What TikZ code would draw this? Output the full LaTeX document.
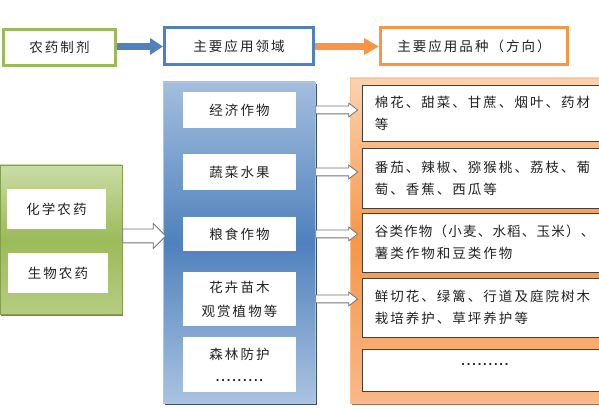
\documentclass[tikz,border=0pt]{standalone}
\usepackage{fontspec}
\usetikzlibrary{shapes.arrows,arrows.meta,shadows}
\newfontfamily\cjk[LetterSpace=15]{Noto Sans CJK SC}
\newfontfamily\dotfont[LetterSpace=14]{Liberation Sans}
\definecolor{gr}{HTML}{9BBB59}
\definecolor{grL}{HTML}{CADCA6}
\definecolor{grB}{HTML}{B6CC82}
\definecolor{bl}{HTML}{4F81BD}
\definecolor{blL}{HTML}{A3BEDD}
\definecolor{blB}{HTML}{AAC3E0}
\definecolor{orc}{HTML}{F79646}
\definecolor{orL}{HTML}{FBD3B2}
\definecolor{orB}{HTML}{F9B888}
\definecolor{txt}{HTML}{222222}
\tikzset{
  every node/.style={font=\cjk\fontsize{13.5}{22}\selectfont, text=txt},
  topbox/.style={draw, line width=3pt, fill=white, minimum height=37pt, inner sep=0pt},
  wbox/.style={fill=white, inner sep=0pt},
  obox/.style={fill=white, draw=black!75, line width=0.8pt, inner sep=0pt, minimum width=243pt},
  otext/.style={anchor=west, align=left, inner sep=0pt},
  hollow/.style={single arrow, draw=black!55, fill=white, line width=0.8pt, inner sep=0pt, anchor=tail},
  panel/.style={line width=0.6pt, inner sep=0pt}
}
\begin{document}
\begin{tikzpicture}[x=1pt,y=1pt]
\useasboundingbox (0,0) rectangle (599,409);
% top row
\node[topbox, draw=gr, minimum width=112pt, minimum height=36pt] (g1) at (59.5,361.5) {农药制剂};
\node[topbox, draw=bl, minimum width=149pt] (b1) at (239,363) {主要应用领域};
\node[topbox, draw=orc, minimum width=187pt] (o1) at (474,363) {主要应用品种（方向）};
\draw[bl, line width=6.5pt, -{Triangle[length=13pt,width=16pt]}] ([yshift=1pt]g1.east) -- ([yshift=1pt]g1.east -| b1.west);
\draw[orc, line width=6.5pt, -{Triangle[length=15pt,width=16pt]}] ([yshift=-0.5pt]b1.east) -- ([yshift=-0.5pt]b1.east -| o1.west);
% green panel
\node[panel, draw=gr!85!black, top color=grL, bottom color=grB, middle color=gr,
  minimum width=122pt, minimum height=149pt,
  drop shadow={shadow xshift=1.2pt, shadow yshift=-2pt, fill=gr!45!black, opacity=0.7}] (gp) at (61,169.5) {};
\node[wbox, minimum width=99pt, minimum height=40pt] (ga) at (56.5,200) {化学农药};
\node[wbox, minimum width=100pt, minimum height=40pt] (gb) at (58,136) {生物农药};
% blue panel
\node[panel, draw=bl!45!white, top color=blL, bottom color=blB, middle color=bl,
  minimum width=152pt, minimum height=321pt,
  drop shadow={shadow xshift=1.5pt, shadow yshift=-2pt, fill=bl!45!black, opacity=0.9}] (bp) at (239,166.5) {};
\node[wbox, minimum width=113pt, minimum height=36pt] (e1) at (239.5,299) {经济作物};
\node[wbox, minimum width=113pt, minimum height=36pt] (e2) at (239.5,237) {蔬菜水果};
\node[wbox, minimum width=113pt, minimum height=34pt] (e3) at (239.5,175) {粮食作物};
\node[wbox, minimum width=113pt, minimum height=54pt, align=center] (e4) at (239.5,110) {花卉苗木\\[2pt]观赏植物等};
\node[wbox, minimum width=113pt, minimum height=55pt, align=center] (e5) at (239.5,44.5) {森林防护\\{\dotfont\fontsize{13}{22}\selectfont\bfseries .........}};
% orange panel
\node[panel, draw=orc!60!white, top color=orL, bottom color=orB, middle color=orc,
  minimum width=255pt, minimum height=325pt,
  drop shadow={shadow xshift=1.5pt, shadow yshift=-2pt, fill=orc!50!black, opacity=0.8}] (op) at (477.5,168.5) {};
\node[obox, minimum height=56pt] (oa) at (483.5,296) {};
\node[obox, minimum height=60pt] (ob) at (483.5,231) {};
\node[obox, minimum height=59pt] (oc) at (483.5,166.5) {};
\node[obox, minimum height=59pt] (od) at (483.5,101.5) {};
\node[obox, minimum height=42pt] (oe) at (483.5,39) {};
\node[otext] (ta) at ([xshift=13pt]oa.west) {棉花、甜菜、甘蔗、烟叶、药材\\等};
\node[otext] (tb) at ([xshift=13pt]ob.west) {番茄、辣椒、猕猴桃、荔枝、葡\\萄、香蕉、西瓜等};
\node[otext] (tc) at ([xshift=13pt]oc.west) {{\addfontfeature{LetterSpace=9}谷类作物（小麦、水稻、玉米）、}\\薯类作物和豆类作物};
\node[otext] (td) at ([xshift=13pt]od.west) {鲜切花、绿篱、行道及庭院树木\\栽培养护、草坪养护等};
\node[inner sep=0pt] (te) at (485,44) {\dotfont\fontsize{13}{22}\selectfont\bfseries .........};
% hollow arrows
\node[hollow, minimum height=43pt, single arrow head extend=5.5pt] (h0) at ([yshift=3.5pt]gp.east) {\rule{0pt}{13pt}};
\node[hollow, minimum height=42pt, single arrow head extend=3pt, single arrow tip angle=75] (h1) at (bp.east |- e1) {\rule{0pt}{7pt}};
\node[hollow, minimum height=42pt, single arrow head extend=3pt, single arrow tip angle=75] (h2) at (bp.east |- e2) {\rule{0pt}{7pt}};
\node[hollow, minimum height=42pt, single arrow head extend=3pt, single arrow tip angle=75] (h3) at (bp.east |- e3) {\rule{0pt}{7pt}};
\node[hollow, minimum height=42pt, single arrow head extend=3pt, single arrow tip angle=75] (h4) at (bp.east |- e4) {\rule{0pt}{7pt}};
\end{tikzpicture}
\end{document}
